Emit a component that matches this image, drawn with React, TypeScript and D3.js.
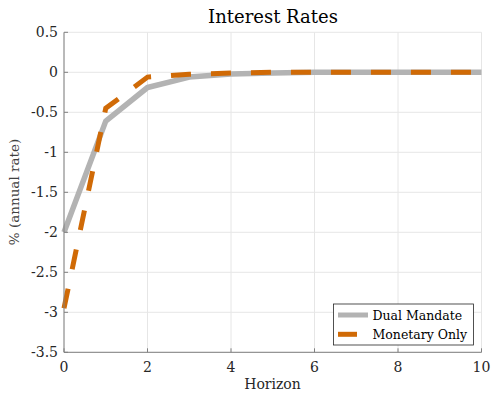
import React from "react";
import * as d3 from "d3";

const horizon = [0, 1, 2, 3, 4, 5, 6, 7, 8, 9, 10];
const dualMandate = [-2.0, -0.61, -0.19, -0.06, -0.02, -0.01, 0, 0, 0, 0, 0];
const monetaryOnly = [-2.95, -0.45, -0.06, -0.025, -0.01, 0, 0, 0, 0, 0, 0];
const xTicks = [0, 2, 4, 6, 8, 10];
const yTicks = [0.5, 0, -0.5, -1, -1.5, -2, -2.5, -3, -3.5];
const seriesNames = ["Dual Mandate", "Monetary Only"];

const W = 491;
const H = 395;
const m = { left: 64, right: 481.5, top: 32.3, bottom: 352.3 };
const font = "'DejaVu Serif', 'Liberation Serif', serif";
const textColor = "#262626";
const axisColor = "#808080";
const gray = "#b3b3b3";
const orange = "#d06a06";

export default function App() {
  const x = d3.scaleLinear().domain([0, 10]).range([m.left, m.right]);
  const y = d3.scaleLinear().domain([-3.5, 0.5]).range([m.bottom, m.top]);
  const line = d3
    .line<number>()
    .x((_, i) => x(horizon[i]))
    .y((d) => y(d));

  const fmt = (v: number) => (v === 0 ? "0" : String(v));

  return (
    <svg width={W} height={H} style={{ position: "absolute", left: 0, top: 0, background: "#fff" }}>
      {/* grid */}
      {xTicks.map((t) => (
        <line key={"gx" + t} x1={x(t)} x2={x(t)} y1={m.top} y2={m.bottom} stroke="#e6e6e6" strokeWidth={1} />
      ))}
      {yTicks.map((t) => (
        <line key={"gy" + t} x1={m.left} x2={m.right} y1={y(t)} y2={y(t)} stroke="#e6e6e6" strokeWidth={1} />
      ))}

      {/* series */}
      <path d={line(dualMandate) || ""} fill="none" stroke={gray} strokeWidth={5.5} strokeLinejoin="round" />
      <path
        d={line(monetaryOnly) || ""}
        fill="none"
        stroke={orange}
        strokeWidth={5}
        strokeDasharray="20,20"
      />

      {/* axes */}
      <line x1={m.left} x2={m.left} y1={m.top} y2={m.bottom} stroke={axisColor} strokeWidth={1} />
      <line x1={m.left} x2={m.right} y1={m.bottom} y2={m.bottom} stroke={axisColor} strokeWidth={1} />
      {xTicks.map((t) => (
        <g key={"xt" + t}>
          <line x1={x(t)} x2={x(t)} y1={m.bottom} y2={m.bottom - 4} stroke={axisColor} />
          <text x={x(t)} y={372} textAnchor="middle" fontFamily={font} fontSize={14} fill={textColor}>
            {fmt(t)}
          </text>
        </g>
      ))}
      {yTicks.map((t) => (
        <g key={"yt" + t}>
          <line x1={m.left} x2={m.left + 4} y1={y(t)} y2={y(t)} stroke={axisColor} />
          <text x={58} y={y(t) + 5} textAnchor="end" fontFamily={font} fontSize={14} fill={textColor}>
            {fmt(t)}
          </text>
        </g>
      ))}

      {/* labels */}
      <text x={273} y={23} textAnchor="middle" fontFamily={font} fontSize={18} fill="#000">
        Interest Rates
      </text>
      <text x={272.5} y={389} textAnchor="middle" fontFamily={font} fontSize={14} fill={textColor}>
        Horizon
      </text>
      <text
        transform={`translate(19,192) rotate(-90)`}
        textAnchor="middle"
        fontFamily={font}
        fontSize={13.5}
        fill="#404040"
      >
        % (annual rate)
      </text>

      {/* legend */}
      <rect x={333.5} y={304} width={140} height={41} fill="#fff" stroke="#262626" strokeWidth={0.8} />
      <line x1={338} x2={368} y1={315} y2={315} stroke={gray} strokeWidth={5} />
      <line x1={338} x2={357} y1={334.3} y2={334.3} stroke={orange} strokeWidth={5} />
      <text x={372.5} y={319.5} fontFamily={font} fontSize={12.5} fill="#000">
        {seriesNames[0]}
      </text>
      <text x={372.5} y={339} fontFamily={font} fontSize={12.5} fill="#000">
        {seriesNames[1]}
      </text>
    </svg>
  );
}
